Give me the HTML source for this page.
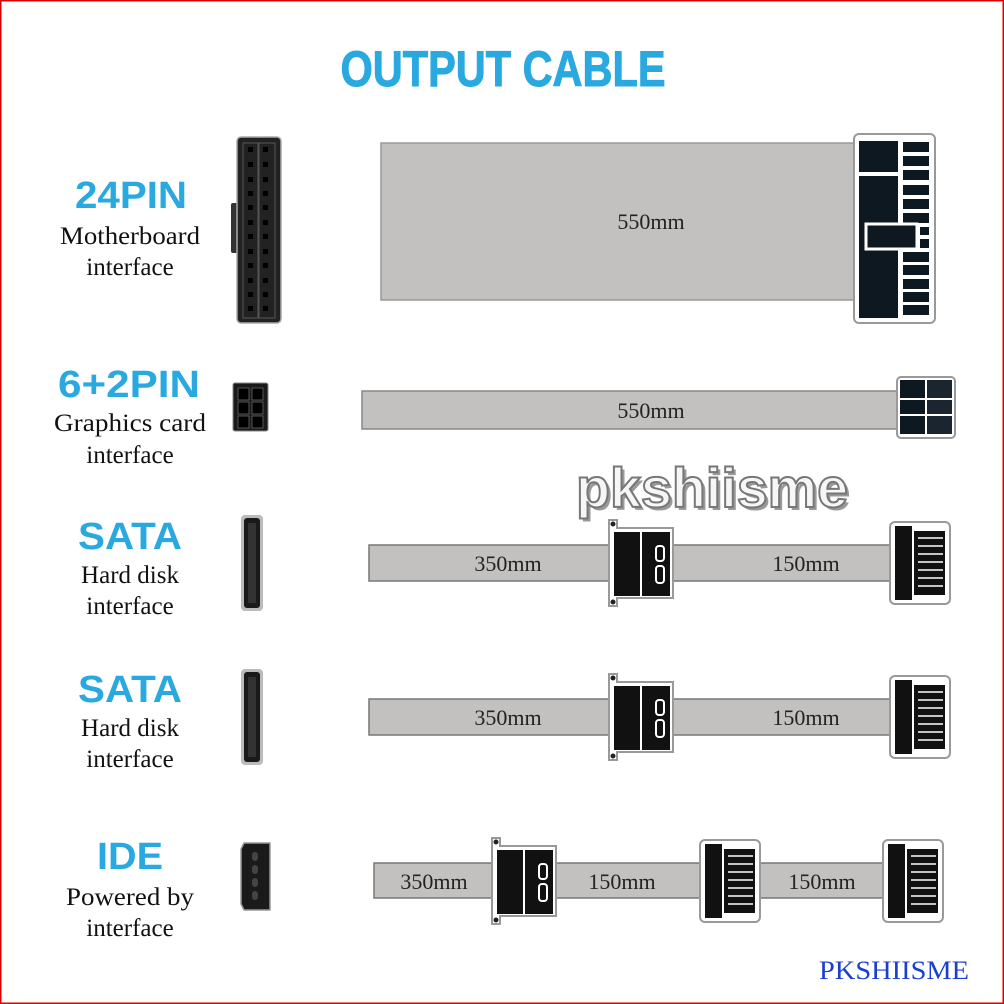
<!DOCTYPE html>
<html><head><meta charset="utf-8"><style>
html,body{margin:0;padding:0;background:#fff}
svg{display:block}
</style></head><body>
<svg width="1004" height="1004" viewBox="0 0 1004 1004" xmlns="http://www.w3.org/2000/svg">
<defs>
<g id="mid">
 <path d="M2,0 h8 v8 h56 v70 h-56 v8 h-8 z" fill="#fff" stroke="#999" stroke-width="2"/>
 <rect x="7" y="12" width="26" height="64" fill="#111"/>
 <rect x="35" y="12" width="28" height="64" fill="#111"/>
 <rect x="49" y="26" width="8" height="15" rx="3" fill="none" stroke="#fff" stroke-width="2"/>
 <rect x="49" y="46" width="8" height="17" rx="3" fill="none" stroke="#fff" stroke-width="2"/>
 <circle cx="6" cy="4" r="2.5" fill="#222"/><circle cx="6" cy="82" r="2.5" fill="#222"/>
</g>
<g id="end">
 <rect x="0" y="0" width="60" height="82" rx="5" fill="#fff" stroke="#999" stroke-width="2"/>
 <rect x="5" y="4" width="17" height="74" fill="#111"/>
 <rect x="24" y="9" width="31" height="64" fill="#111"/>
 <g stroke="#fff" stroke-width="1.5" fill="none">
  <path d="M28,16 h25 M28,24 h25 M28,32 h25 M28,40 h25 M28,48 h25 M28,56 h25 M28,64 h25"/>
 </g>
</g>
<g id="satal">
 <rect x="0" y="0" width="22" height="96" rx="4" fill="#bbb"/>
 <rect x="3" y="3" width="16" height="90" rx="3" fill="#1a1a1a"/>
 <rect x="7" y="8" width="8" height="80" fill="#333"/>
</g>
</defs>
<rect x="0.5" y="0.5" width="1003" height="1003" fill="#fff" stroke="#d00" stroke-width="2"/>

<text x="503" y="86" text-anchor="middle" font-family="Liberation Sans, sans-serif" font-weight="bold" font-size="50" fill="#29a9e0" stroke="#29a9e0" stroke-width="1" textLength="325" lengthAdjust="spacingAndGlyphs">OUTPUT CABLE</text>

<g font-family="Liberation Sans, sans-serif" font-weight="bold" fill="#29a9e0" text-anchor="middle">
 <text x="131" y="208" font-size="38" textLength="112" lengthAdjust="spacingAndGlyphs">24PIN</text>
 <text x="129" y="397" font-size="38" textLength="142" lengthAdjust="spacingAndGlyphs">6+2PIN</text>
 <text x="130" y="549" font-size="38" textLength="104" lengthAdjust="spacingAndGlyphs">SATA</text>
 <text x="130" y="702" font-size="38" textLength="104" lengthAdjust="spacingAndGlyphs">SATA</text>
 <text x="130" y="869" font-size="38" textLength="66" lengthAdjust="spacingAndGlyphs">IDE</text>
</g>
<g font-family="Liberation Serif, serif" font-size="25" fill="#111" text-anchor="middle">
 <text x="130" y="244" textLength="140" lengthAdjust="spacingAndGlyphs">Motherboard</text><text x="130" y="275">interface</text>
 <text x="130" y="431" textLength="152" lengthAdjust="spacingAndGlyphs">Graphics card</text><text x="130" y="463">interface</text>
 <text x="130" y="583">Hard disk</text><text x="130" y="614">interface</text>
 <text x="130" y="736">Hard disk</text><text x="130" y="767">interface</text>
 <text x="130" y="905" textLength="128" lengthAdjust="spacingAndGlyphs">Powered by</text><text x="130" y="936">interface</text>
</g>

<!-- 24pin left connector -->
<rect x="231" y="203" width="10" height="50" rx="2" fill="#333"/>
<rect x="237" y="137" width="44" height="186" rx="4" fill="#222" stroke="#aaa" stroke-width="1.5"/>
<g fill="#000" stroke="#555" stroke-width="1">
 <rect x="243" y="143" width="15" height="175" fill="none"/><rect x="259" y="143" width="16" height="175" fill="none"/>
</g>
<g fill="#000">
 <rect x="248" y="147" width="5" height="5"/><rect x="263" y="147" width="5" height="5"/>
 <rect x="248" y="162" width="5" height="5"/><rect x="263" y="162" width="5" height="5"/>
 <rect x="248" y="177" width="5" height="5"/><rect x="263" y="177" width="5" height="5"/>
 <rect x="248" y="191" width="5" height="5"/><rect x="263" y="191" width="5" height="5"/>
 <rect x="248" y="205" width="5" height="5"/><rect x="263" y="205" width="5" height="5"/>
 <rect x="248" y="220" width="5" height="5"/><rect x="263" y="220" width="5" height="5"/>
 <rect x="248" y="234" width="5" height="5"/><rect x="263" y="234" width="5" height="5"/>
 <rect x="248" y="249" width="5" height="5"/><rect x="263" y="249" width="5" height="5"/>
 <rect x="248" y="263" width="5" height="5"/><rect x="263" y="263" width="5" height="5"/>
 <rect x="248" y="278" width="5" height="5"/><rect x="263" y="278" width="5" height="5"/>
 <rect x="248" y="292" width="5" height="5"/><rect x="263" y="292" width="5" height="5"/>
 <rect x="248" y="306" width="5" height="5"/><rect x="263" y="306" width="5" height="5"/>
</g>
<!-- 24pin cable -->
<rect x="381" y="143" width="476" height="157" fill="#c3c1bf" stroke="#999" stroke-width="1.5"/>
<text x="651" y="229" text-anchor="middle" font-family="Liberation Serif, serif" font-size="22" fill="#222">550mm</text>
<!-- 24pin right connector -->
<rect x="854" y="134" width="81" height="189" rx="5" fill="#fff" stroke="#999" stroke-width="2"/>
<rect x="859" y="141" width="39" height="31" fill="#0e1820"/>
<rect x="859" y="176" width="39" height="142" fill="#0e1820"/>
<g fill="#0e1820">
 <rect x="903" y="142" width="26" height="10"/><rect x="903" y="156" width="26" height="10"/>
 <rect x="903" y="170" width="26" height="10"/><rect x="903" y="185" width="26" height="10"/>
 <rect x="903" y="199" width="26" height="10"/><rect x="903" y="213" width="26" height="10"/>
 <rect x="920" y="227" width="9" height="8"/><rect x="920" y="239" width="9" height="9"/>
 <rect x="903" y="252" width="26" height="10"/><rect x="903" y="265" width="26" height="10"/>
 <rect x="903" y="279" width="26" height="10"/><rect x="903" y="292" width="26" height="10"/>
 <rect x="903" y="305" width="26" height="10"/>
</g>
<rect x="866" y="224" width="51" height="25" fill="#0e1820" stroke="#fff" stroke-width="3"/>

<!-- 6+2 -->
<rect x="233" y="383" width="35" height="48" rx="2" fill="#1a1a1a" stroke="#888"/>
<g fill="#000" stroke="#555"><rect x="238" y="388" width="11" height="12"/><rect x="252" y="388" width="11" height="12"/><rect x="238" y="402" width="11" height="12"/><rect x="252" y="402" width="11" height="12"/><rect x="238" y="416" width="11" height="12"/><rect x="252" y="416" width="11" height="12"/></g>
<rect x="362" y="391" width="538" height="38" fill="#c3c1bf" stroke="#888" stroke-width="1.5"/>
<text x="651" y="418" text-anchor="middle" font-family="Liberation Serif, serif" font-size="22" fill="#222">550mm</text>
<rect x="897" y="377" width="58" height="61" rx="4" fill="#fff" stroke="#999" stroke-width="2"/>
<rect x="900" y="380" width="25" height="18" fill="#0e1820"/>
<rect x="927" y="380" width="25" height="18" fill="#1a2530"/>
<rect x="900" y="400" width="25" height="14" fill="#0e1820"/><rect x="927" y="400" width="25" height="14" fill="#1a2530"/>
<rect x="900" y="416" width="25" height="18" fill="#0e1820"/><rect x="927" y="416" width="25" height="18" fill="#1a2530"/>

<!-- watermark -->
<text x="715" y="510" text-anchor="middle" font-family="Liberation Sans, sans-serif" font-weight="bold" font-size="56" fill="#999" textLength="272" lengthAdjust="spacingAndGlyphs">pkshiisme</text>
<text x="712" y="507" text-anchor="middle" font-family="Liberation Sans, sans-serif" font-weight="bold" font-size="56" fill="#f6f6f6" stroke="#777" stroke-width="2" textLength="272" lengthAdjust="spacingAndGlyphs">pkshiisme</text>

<!-- SATA 1 -->
<use href="#satal" x="241" y="515"/>
<rect x="369" y="545" width="526" height="36" fill="#c3c1bf" stroke="#777" stroke-width="1.5"/>
<use href="#mid" x="607" y="520"/>
<use href="#end" x="890" y="522"/>
<g font-family="Liberation Serif, serif" font-size="22" fill="#222" text-anchor="middle">
 <text x="508" y="571">350mm</text><text x="806" y="571">150mm</text>
</g>

<!-- SATA 2 -->
<use href="#satal" x="241" y="669"/>
<rect x="369" y="699" width="526" height="36" fill="#c3c1bf" stroke="#777" stroke-width="1.5"/>
<use href="#mid" x="607" y="674"/>
<use href="#end" x="890" y="676"/>
<g font-family="Liberation Serif, serif" font-size="22" fill="#222" text-anchor="middle">
 <text x="508" y="725">350mm</text><text x="806" y="725">150mm</text>
</g>

<!-- IDE -->
<path d="M244,843 h26 v67 h-26 l-3,-6 v-55 z" fill="#1a1a1a" stroke="#999" stroke-width="1.5"/>
<g fill="#444"><rect x="252" y="852" width="6" height="9" rx="3"/><rect x="252" y="865" width="6" height="9" rx="3"/><rect x="252" y="878" width="6" height="9" rx="3"/><rect x="252" y="891" width="6" height="9" rx="3"/></g>
<rect x="374" y="863" width="566" height="35" fill="#c3c1bf" stroke="#777" stroke-width="1.5"/>
<use href="#mid" x="490" y="838"/>
<use href="#end" x="700" y="840"/>
<use href="#end" x="883" y="840"/>
<g font-family="Liberation Serif, serif" font-size="22" fill="#222" text-anchor="middle">
 <text x="434" y="889">350mm</text><text x="622" y="889">150mm</text><text x="822" y="889">150mm</text>
</g>

<text x="894" y="979" text-anchor="middle" font-family="Liberation Serif, serif" font-size="26" fill="#1a3fd0" textLength="150" lengthAdjust="spacingAndGlyphs">PKSHIISME</text>
</svg>
</body></html>
